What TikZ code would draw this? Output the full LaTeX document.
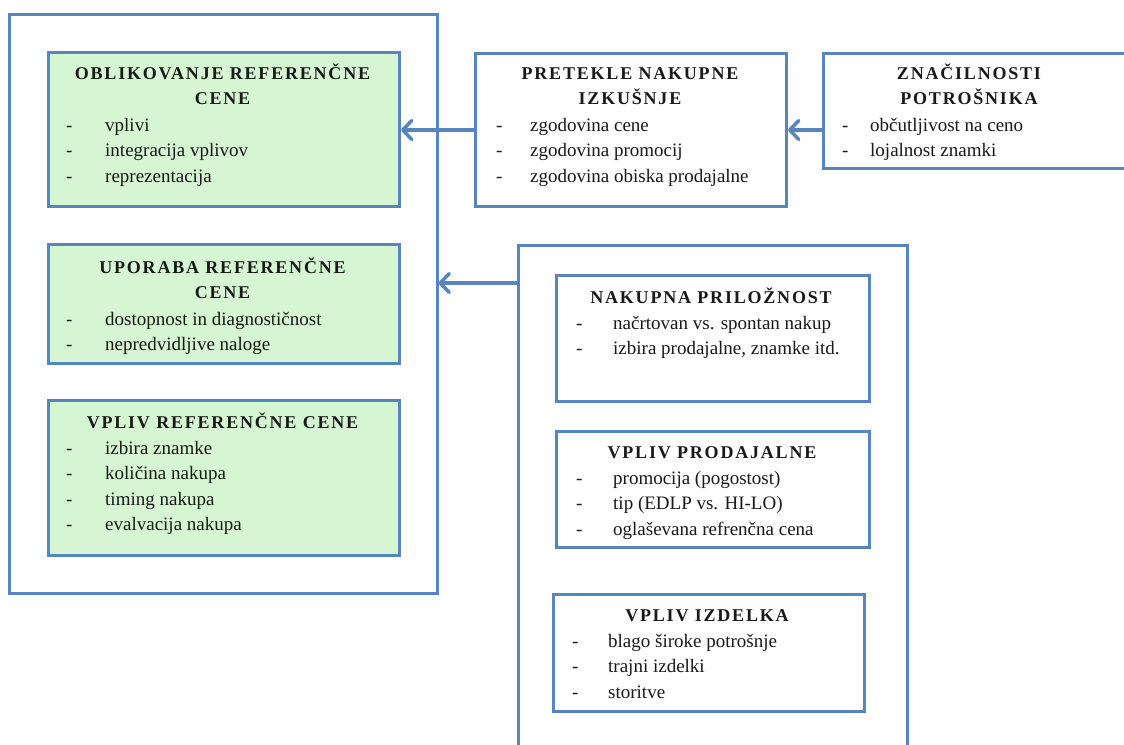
\documentclass[tikz,border=0pt]{standalone}
\usepackage{fontspec}
\setmainfont{Liberation Serif}
\newfontfamily\ttlfont[LetterSpace=10]{Liberation Serif}
\usetikzlibrary{arrows.meta}
\definecolor{bordblue}{RGB}{86,133,192}
\definecolor{boxgreen}{RGB}{214,245,210}
\definecolor{txt}{RGB}{25,25,25}
\newcommand\dashitem[2]{\makebox[#1][l]{-}#2}
\tikzset{
 frame/.style={draw=bordblue, line width=2.5pt, anchor=north west, inner sep=0, fill=white},
 gbox/.style={draw=bordblue, line width=3pt, fill=boxgreen, anchor=north west, inner sep=0},
 wbox/.style={draw=bordblue, line width=3pt, fill=white, anchor=north west, inner sep=0},
 ttl/.style={anchor=north, inner sep=0, align=center, text=txt, font=\ttlfont\bfseries\fontsize{18}{25}\selectfont},
 items/.style={anchor=north west, inner sep=0, align=left, text=txt, font=\fontsize{19}{25.5}\selectfont},
 arr/.style={draw=bordblue, line width=3.5pt, -{Straight Barb[length=9pt,width=19pt,round]}},
}
\begin{document}
\begin{tikzpicture}[x=1pt,y=-1pt]
\useasboundingbox (0,0) rectangle (1124,744);
\clip (0,0) rectangle (1124,744);
% left frame
\node[frame, minimum width=428pt, minimum height=579pt] (outl) at (8,13) {};
\node[gbox, minimum width=351pt, minimum height=154pt] (g1) at (47,51) {};
\node[gbox, minimum width=351pt, minimum height=119pt] (g2) at (47,243) {};
\node[gbox, minimum width=351pt, minimum height=155pt] (g3) at (47,399) {};
% top boxes
\node[wbox, minimum width=311pt, minimum height=153pt] (m) at (474,52) {};
\node[wbox, minimum width=320pt, minimum height=115pt] (r) at (822,52) {};
% right frame
\node[frame, minimum width=389pt, minimum height=520pt] (r2) at (517,244) {};
\node[wbox, minimum width=313pt, minimum height=126pt] (n1) at (555,274) {};
\node[wbox, minimum width=313pt, minimum height=116pt] (n2) at (555,430) {};
\node[wbox, minimum width=311pt, minimum height=117pt] (n3) at (552,593) {};
% texts
\node[ttl] (g1t) at (222.5,61.5) {\strut OBLIKOVANJE REFERENČNE\\CENE};
\node[items] (g1i) at (66,113.15) {\strut\dashitem{39pt}{vplivi}\\\dashitem{39pt}{integracija vplivov}\\\dashitem{39pt}{reprezentacija}};
\node[ttl] (g2t) at (222.5,255.5) {\strut UPORABA REFERENČNE\\CENE};
\node[items] (g2i) at (66,307.15) {\strut\dashitem{39pt}{dostopnost in diagnostičnost}\\\dashitem{39pt}{nepredvidljive naloge}};
\node[ttl] (g3t) at (222.5,410.5) {\strut VPLIV REFERENČNE CENE};
\node[items] (g3i) at (66,436.15) {\strut\dashitem{39pt}{izbira znamke}\\\dashitem{39pt}{količina nakupa}\\\dashitem{39pt}{timing nakupa}\\\dashitem{39pt}{evalvacija nakupa}};
\node[ttl] (mt) at (630,61.5) {\strut PRETEKLE NAKUPNE\\IZKUŠNJE};
\node[items] (mi) at (496,113.15) {\strut\dashitem{34pt}{zgodovina cene}\\\dashitem{34pt}{zgodovina promocij}\\\dashitem{34pt}{zgodovina obiska prodajalne}};
\node[ttl] (rt) at (969,61.5) {\strut ZNAČILNOSTI\\POTROŠNIKA};
\node[items] (ri) at (842,113.15) {\strut\dashitem{28pt}{občutljivost na ceno}\\\dashitem{28pt}{lojalnost znamki}};
\node[ttl] (n1t) at (711,285.5) {\strut NAKUPNA PRILOŽNOST};
\node[items] (n1i) at (576,311.15) {\strut\dashitem{37pt}{načrtovan vs. spontan nakup}\\\dashitem{37pt}{izbira prodajalne, znamke itd.}};
\node[ttl] (n2t) at (712,440.5) {\strut VPLIV PRODAJALNE};
\node[items] (n2i) at (576,466.15) {\strut\dashitem{37pt}{promocija (pogostost)}\\\dashitem{37pt}{tip (EDLP vs. HI-LO)}\\\dashitem{37pt}{oglaševana refrenčna cena}};
\node[ttl] (n3t) at (707,603.5) {\strut VPLIV IZDELKA};
\node[items] (n3i) at (572,629.15) {\strut\dashitem{36pt}{blago široke potrošnje}\\\dashitem{36pt}{trajni izdelki}\\\dashitem{36pt}{storitve}};
% arrows
\coordinate (ca) at (0,283);
\draw[arr] (m.west) -- (m.west -| g1.east);
\draw[arr] (m.east -| r.west) -- (m.east);
\draw[arr] (ca -| r2.west) -- (ca -| outl.east);
\end{tikzpicture}
\end{document}
